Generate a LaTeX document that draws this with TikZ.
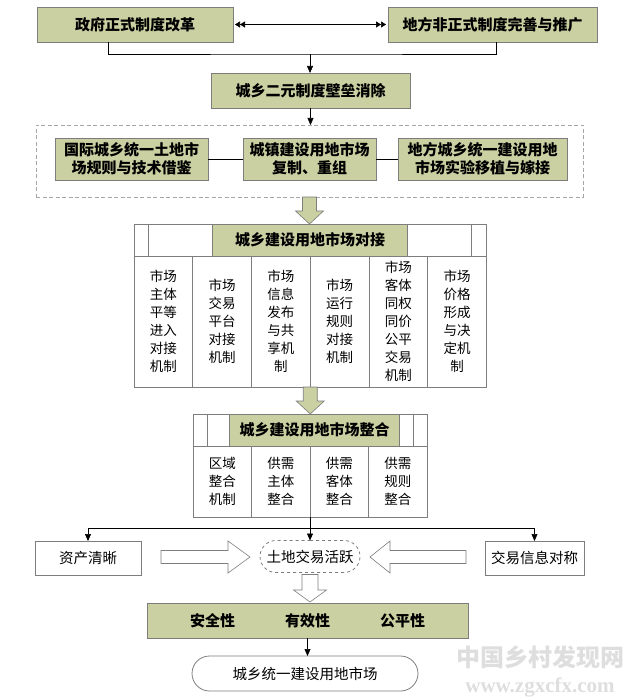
\documentclass[tikz,border=0pt]{standalone}
\usepackage{fontspec}
\setmainfont{Noto Sans CJK SC}
\newfontfamily\markfont{Liberation Serif}
\usetikzlibrary{arrows.meta,calc,shapes.misc}
\definecolor{BoxClr}{RGB}{202,208,161}
\definecolor{LineClr}{RGB}{125,125,125}
\definecolor{MarkClr}{RGB}{222,222,222}

\newcommand\blockdown[6]{%
  \draw[#3] let \p1=#1, \p2=#2 in
    (\x1-#4pt,\y1) -- (\x1+#4pt,\y1) -- (\x1+#4pt,\y2+#6pt) -- (\x1+#5pt,\y2+#6pt)
    -- (\x1,\y2) -- (\x1-#5pt,\y2+#6pt) -- (\x1-#4pt,\y2+#6pt) -- cycle;}
\newcommand\blockside[4]{%
  \draw[hollow] (#1,#4-6.5) -- (#2,#4-6.5) -- (#2,#4-16) -- (#3,#4)
    -- (#2,#4+16) -- (#2,#4+6.5) -- (#1,#4+6.5) -- cycle;}

\begin{document}
\begin{tikzpicture}[x=1pt,y=-1pt,
  every node/.style={inner sep=0pt,outer sep=0pt},
  sz/.style 2 args={minimum width=#1pt,minimum height=#2pt},
  gbox/.style={draw=LineClr,fill=BoxClr,line width=0.8pt,align=center,
    font=\fontsize{15}{18}\selectfont\bfseries},
  wbox/.style={draw=LineClr,fill=white,line width=0.8pt,align=center,
    font=\fontsize{14.5}{18}\selectfont},
  cell/.style={draw=LineClr,line width=0.8pt,align=center,
    font=\fontsize{13.5}{18}\selectfont},
  line/.style={line width=0.6pt},
  link/.style={line width=0.6pt,-{Triangle[width=6pt,length=7pt]}},
  both/.style={line width=0.6pt,arrows={{Triangle[width=6pt,length=5pt]Triangle[width=6pt,length=5pt]}-{Triangle[width=6pt,length=5pt]Triangle[width=6pt,length=5pt]}}},
  fat/.style={draw=LineClr,fill=BoxClr,line width=0.6pt},
  hollow/.style={draw=LineClr,fill=white,line width=0.6pt}]
\useasboundingbox (0,0) rectangle (628,700);

\node[gbox,sz={196}{35}] (gov) at (135,24.5) {政府正式制度改革};
\node[gbox,sz={209}{35}] (loc) at (492.5,24.5) {地方非正式制度完善与推广};
\draw[both,shorten <=2pt,shorten >=2pt] (gov.east) -- (loc.west);

\node[gbox,sz={199}{35}] (bar) at (310.5,90.5) {城乡二元制度壁垒消除};
\coordinate (jn) at (310,54);
\draw[line] ([xshift=-27pt]gov.south) |- (jn) -| ([xshift=3.5pt]loc.south);
\draw[link] (jn) -- (jn |- bar.north);

\node[draw=gray!70,line width=0.8pt,dash pattern=on 4pt off 2.5pt,sz={547}{72}] (pool) at (309.5,161) {};
\draw[link] (bar.south) -- (bar.south |- pool.north);
\node[gbox,sz={153}{42}] (intl) at (131.5,159) {国际城乡统一土地市\\场规则与技术借鉴};
\node[gbox,sz={133}{42}] (copy) at (309.5,159) {城镇建设用地市场\\复制、重组};
\node[gbox,sz={169}{42}] (test) at (482.5,159) {地方城乡统一建设用地\\市场实验移植与嫁接};
\draw[line] (intl) -- (copy);
\draw[line] (copy) -- (test);

% docking
\node[cell,sz={14}{32}] (t1a) at (141,240) {};
\node[cell,sz={64.5}{32}] (t1b) at (180.25,240) {};
\node[gbox,sz={195}{32}] (t1h) at (310,240) {城乡建设用地市场对接};
\node[cell,sz={64}{32}] (t1d) at (439.5,240) {};
\node[cell,sz={15}{32}] (t1e) at (479,240) {};
\foreach \txt [count=\k] in {{市场\\主体\\平等\\进入\\对接\\机制},{市场\\交易\\平台\\对接\\机制},
    {市场\\信息\\发布\\与共\\享机\\制},{市场\\运行\\规则\\对接\\机制},
    {市场\\客体\\同权\\同价\\公平\\交易\\机制},{市场\\价格\\形成\\与决\\定机\\制}}
  \node[cell,sz={58.75}{131}] (t1c\k) at (134+58.75*\k-29.375,321.5) {\txt};
\blockdown{(pool.south)}{(t1h.north)}{fat}{7}{14}{13}

% integration
\node[cell,sz={14}{32}] (t2a) at (200,430) {};
\node[cell,sz={22.5}{32}] (t2b) at (218.25,430) {};
\node[gbox,sz={170}{32}] (t2h) at (314.5,430) {城乡建设用地市场整合};
\node[cell,sz={13.5}{32}] (t2d) at (406.25,430) {};
\node[cell,sz={14}{32}] (t2e) at (420,430) {};
\foreach \txt [count=\k] in {{区域\\整合\\机制},{供需\\主体\\整合},{供需\\客体\\整合},{供需\\规则\\整合}}
  \node[cell,sz={58.5}{71}] (t2c\k) at (193+58.5*\k-29.25,481.5) {\txt};
\blockdown{(t1c4.south west)}{(t2h.north)}{fat}{7}{14}{13}

\node[wbox,dashed,rounded rectangle,sz={100}{32}] (act) at (310,556.5) {土地交易活跃};
\node[wbox,sz={106}{34}] (asset) at (88,558) {资产清晰};
\node[wbox,sz={99}{34}] (sym) at (534.5,558) {交易信息对称};
\draw[link] (t2c3.south west) -- (t2c3.south west |- act.north);
\coordinate (br) at (310,528);
\draw[link] (br) -| (asset.north);
\draw[link] (br) -| (sym.north);
\blockside{161}{228}{250}{557}
\blockside{466}{390}{370}{557}

\node[gbox,sz={321}{35}] (qual) at (307.5,620.5) {安全性\hspace{50pt}有效性\hspace{50pt}公平性};
\blockdown{([yshift=-2pt]act.south)}{([yshift=1pt]qual.north)}{hollow}{8}{16.5}{12}
\node[wbox,rounded rectangle,sz={226}{35}] (goal) at (305,673.5) {城乡统一建设用地市场};
\draw[link] (qual.south) -- (qual.south |- goal.north);

\node[text=MarkClr,font=\fontsize{24}{24}\selectfont\bfseries] (mark) at (540,657) {中国乡村发现网};
\node[text=MarkClr,font=\markfont\bfseries\fontsize{21}{21}\selectfont] (site) at (540,687) {www.zgxcfx.com};
\end{tikzpicture}
\end{document}
